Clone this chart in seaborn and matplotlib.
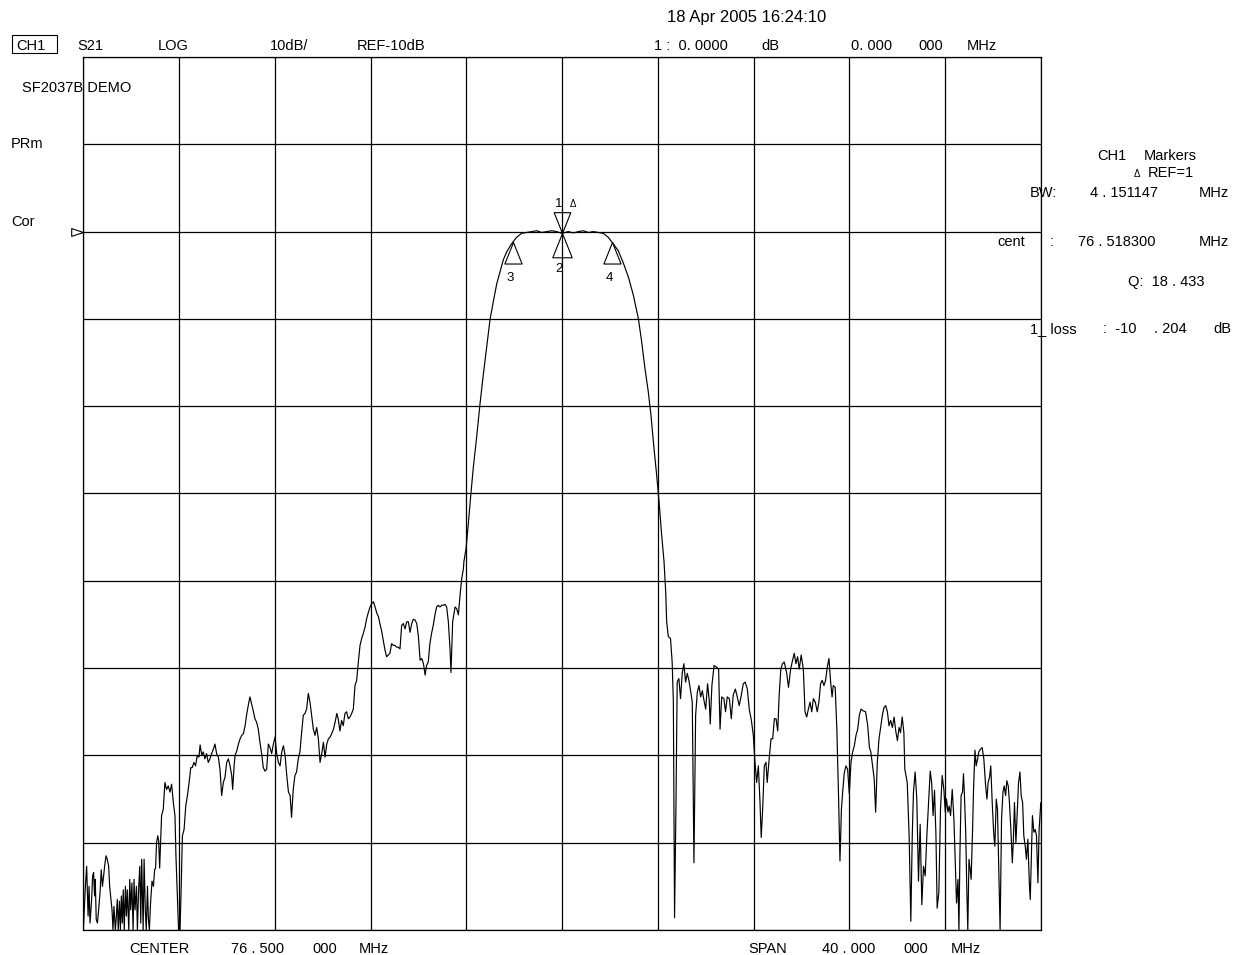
import numpy as np
import matplotlib
matplotlib.use("Agg")
import matplotlib.pyplot as plt
from matplotlib.patches import Rectangle
import seaborn as sns

# S21 trace (MHz, dB)
low_stop_freq = [
    56.50, 56.58, 56.64, 56.70, 56.74, 56.78, 56.84, 56.89, 56.93, 56.97,
    57.00, 57.04, 57.09, 57.14, 57.20, 57.25, 57.30, 57.35, 57.39, 57.45,
    57.50, 57.56, 57.60, 57.64, 57.70, 57.74, 57.78, 57.84, 57.88, 57.92,
    57.96, 58.01, 58.05, 58.09, 58.13, 58.17, 58.21, 58.26, 58.30, 58.34,
    58.40, 58.44, 58.48, 58.53, 58.58, 58.62, 58.66, 58.72, 58.76, 58.81,
    58.86, 58.90, 58.94, 59.00, 59.04, 59.09, 59.13, 59.18, 59.22, 59.26,
    59.31, 59.37, 59.43, 59.48, 59.52, 59.56, 59.61, 59.65, 59.69, 59.73,
    59.77, 59.84, 59.91, 59.98, 60.05, 60.12, 60.19, 60.26, 60.33, 60.37,
    60.43, 60.48, 60.54, 60.58, 60.64, 60.71, 60.78, 60.85, 60.92, 60.99,
    61.05, 61.12, 61.19, 61.26, 61.33, 61.38, 61.45, 61.51, 61.58, 61.65,
    61.72, 61.79, 61.86, 61.93, 62.00, 62.07, 62.14, 62.21, 62.28, 62.35,
    62.42, 62.49, 62.56, 62.63, 62.70, 62.74, 62.80, 62.84, 62.91, 62.98,
    63.05, 63.12, 63.19, 63.26, 63.32, 63.39, 63.46, 63.53, 63.60, 63.67,
    63.74, 63.81, 63.88, 63.95, 64.02, 64.09, 64.16, 64.23, 64.30, 64.37,
    64.44, 64.51, 64.58, 64.65, 64.72, 64.79, 64.86, 64.93, 65.00, 65.07,
    65.14, 65.20, 65.27, 65.34, 65.41, 65.48, 65.55, 65.62, 65.69, 65.76,
    65.83, 65.90, 65.97, 66.04, 66.11, 66.18, 66.25, 66.32, 66.39, 66.46,
    66.53, 66.60, 66.67, 66.74, 66.81, 66.88, 66.95, 67.02, 67.09, 67.15,
    67.22, 67.29, 67.36, 67.43, 67.50, 67.57, 67.64, 67.71, 67.78, 67.85,
    67.92, 67.99, 68.06, 68.13, 68.20, 68.27, 68.34, 68.41, 68.48, 68.55,
    68.62, 68.69, 68.76, 68.83, 68.89, 68.96, 69.03, 69.10, 69.17, 69.24,
    69.31, 69.38, 69.45, 69.52, 69.59, 69.66, 69.73, 69.80, 69.87, 69.94,
    70.01, 70.08, 70.15, 70.22, 70.29, 70.36, 70.43, 70.50, 70.57, 70.64,
    70.71, 70.78, 70.84, 70.91, 70.98, 71.05, 71.12, 71.19, 71.26, 71.33,
    71.40, 71.47, 71.54, 71.61, 71.68, 71.75, 71.82, 71.86, 71.93, 72.03,
    72.10, 72.17, 72.24, 72.31, 72.38,
]
low_stop_db = [
    -90.0, -85.4, -82.7, -88.4, -85.0, -89.2, -86.9, -83.8, -83.4, -86.1,
    -84.2, -88.8, -89.2, -87.7, -85.7, -83.1, -85.0, -83.8, -82.7, -81.5,
    -81.9, -82.7, -85.0, -86.1, -87.7, -90.0, -87.3, -90.0, -88.4, -86.5,
    -90.0, -86.7, -90.0, -86.1, -89.2, -85.4, -90.0, -85.0, -88.4, -85.4,
    -90.0, -84.2, -87.7, -84.6, -90.0, -84.2, -87.7, -85.0, -90.0, -85.4,
    -82.7, -89.2, -81.9, -90.0, -81.9, -87.7, -90.0, -85.0, -88.8, -90.0,
    -86.9, -84.4, -85.0, -83.1, -82.9, -80.0, -79.2, -79.8, -82.9, -80.0,
    -76.9, -76.2, -73.1, -73.9, -73.5, -74.2, -73.3, -75.4, -76.9, -81.5,
    -86.1, -90.0, -90.0, -86.1, -79.2, -78.5, -75.8, -74.6, -73.1, -71.4,
    -71.4, -70.8, -71.2, -70.0, -70.2, -68.8, -70.0, -69.6, -70.4, -69.8,
    -70.8, -70.4, -69.8, -69.3, -68.7, -69.8, -70.2, -71.6, -74.6, -73.1,
    -72.5, -70.8, -70.4, -71.2, -72.3, -73.9, -71.2, -70.0, -69.5, -68.7,
    -68.1, -67.7, -67.5, -66.6, -65.4, -64.3, -63.3, -64.1, -64.9, -65.8,
    -66.2, -67.0, -68.5, -69.8, -71.4, -71.8, -71.6, -68.7, -69.1, -69.8,
    -68.7, -67.9, -69.8, -70.8, -71.2, -69.6, -68.9, -70.0, -72.3, -74.2,
    -74.6, -77.1, -73.9, -72.3, -71.9, -70.4, -69.6, -67.4, -65.4, -65.2,
    -64.7, -62.9, -63.9, -65.4, -67.0, -67.7, -66.8, -68.1, -70.8, -69.8,
    -68.5, -70.2, -68.7, -68.1, -67.9, -67.5, -67.0, -66.2, -65.2, -65.8,
    -67.2, -66.0, -66.6, -65.2, -65.0, -65.8, -65.6, -65.2, -64.7, -62.0,
    -61.4, -59.3, -57.4, -56.6, -56.0, -55.3, -54.3, -53.6, -53.0, -52.6,
    -52.4, -53.0, -53.7, -54.1, -54.9, -55.7, -56.8, -57.9, -58.7, -58.5,
    -58.3, -57.2, -57.4, -57.4, -57.6, -57.6, -57.8, -55.1, -54.9, -55.5,
    -54.7, -54.7, -55.9, -54.9, -54.4, -54.5, -54.9, -56.4, -59.1, -58.9,
    -59.5, -60.8, -59.7, -59.3, -57.2, -56.0, -55.1, -53.9, -53.0, -52.8,
    -53.0, -52.8, -52.8, -52.7, -53.0, -54.7, -57.8, -60.5, -54.7, -53.0,
    -53.2, -53.9, -51.6, -49.7, -48.6,
]

pass_freq = [
    72.40, 72.49, 72.58, 72.69, 72.79, 72.93, 73.07, 73.21, 73.35, 73.49,
    73.63, 73.77, 73.91, 74.05, 74.19, 74.39, 74.60, 74.81, 75.02, 75.23,
    75.44, 75.65, 75.86, 76.07, 76.27, 76.50, 76.76, 76.97, 77.18, 77.39,
    77.60, 77.81, 78.01, 78.22, 78.43, 78.64, 78.85, 79.06, 79.27, 79.48,
    79.69, 79.82, 79.96, 80.10, 80.21, 80.34, 80.45, 80.55, 80.66, 80.76,
    80.83,
]
pass_db = [
    -47.8, -46.3, -43.6, -40.1, -37.1, -33.6, -29.8, -26.4, -23.3, -20.1,
    -18.0, -16.0, -14.6, -13.2, -12.3, -11.4, -10.65, -10.2, -10.1, -10.0,
    -9.9, -10.1, -10.0, -9.9, -10.0, -10.2, -10.0, -10.15, -10.0, -9.9,
    -10.1, -10.0, -10.1, -10.2, -10.65, -11.4, -12.2, -13.6, -15.2, -17.3,
    -20.0, -22.5, -25.6, -28.3, -30.9, -34.8, -37.8, -40.9, -44.7, -47.8,
    -51.3,
]

high_stop_freq = [
    80.87, 80.94, 81.03, 81.10, 81.15, 81.20, 81.26, 81.31, 81.38, 81.45,
    81.52, 81.59, 81.66, 81.73, 81.80, 81.87, 81.94, 82.01, 82.08, 82.15,
    82.22, 82.29, 82.36, 82.43, 82.50, 82.58, 82.65, 82.69, 82.76, 82.85,
    82.96, 83.04, 83.10, 83.17, 83.26, 83.33, 83.40, 83.49, 83.57, 83.65,
    83.74, 83.82, 83.90, 83.99, 84.07, 84.15, 84.24, 84.32, 84.41, 84.49,
    84.56, 84.63, 84.70, 84.77, 84.82, 84.88, 84.95, 85.02, 85.07, 85.14,
    85.23, 85.30, 85.37, 85.44, 85.51, 85.57, 85.64, 85.71, 85.78, 85.88,
    85.96, 86.05, 86.13, 86.20, 86.27, 86.34, 86.41, 86.49, 86.58, 86.65,
    86.72, 86.79, 86.86, 86.93, 87.00, 87.08, 87.16, 87.23, 87.30, 87.37,
    87.44, 87.51, 87.58, 87.65, 87.72, 87.78, 87.83, 87.91, 87.98, 88.05,
    88.11, 88.17, 88.22, 88.29, 88.36, 88.43, 88.50, 88.57, 88.64, 88.71,
    88.78, 88.85, 88.92, 88.99, 89.08, 89.18, 89.27, 89.34, 89.40, 89.47,
    89.54, 89.60, 89.67, 89.74, 89.81, 89.88, 89.95, 90.02, 90.09, 90.16,
    90.23, 90.30, 90.37, 90.44, 90.51, 90.58, 90.64, 90.71, 90.78, 90.82,
    90.92, 91.00, 91.07, 91.13, 91.18, 91.25, 91.32, 91.39, 91.46, 91.53,
    91.60, 91.67, 91.74, 91.81, 91.88, 91.94, 92.00, 92.06, 92.12, 92.17,
    92.24, 92.31, 92.38, 92.45, 92.51, 92.56, 92.62, 92.67, 92.73, 92.80,
    92.87, 92.92, 92.98, 93.04, 93.08, 93.12, 93.17, 93.23, 93.27, 93.31,
    93.36, 93.41, 93.45, 93.50, 93.55, 93.59, 93.65, 93.69, 93.75, 93.80,
    93.86, 93.91, 93.98, 94.05, 94.12, 94.19, 94.25, 94.30, 94.36, 94.41,
    94.47, 94.53, 94.58, 94.64, 94.69, 94.75, 94.80, 94.86, 94.92, 94.97,
    95.03, 95.08, 95.14, 95.19, 95.25, 95.31, 95.35, 95.40, 95.46, 95.51,
    95.57, 95.63, 95.68, 95.74, 95.79, 95.85, 95.90, 95.96, 96.02, 96.06,
    96.10, 96.15, 96.21, 96.27, 96.32, 96.38, 96.43, 96.50,
]
high_stop_db = [
    -54.7, -56.4, -56.6, -59.3, -63.9, -88.6, -75.4, -61.6, -61.2, -63.5,
    -60.6, -59.5, -61.6, -60.6, -61.4, -62.6, -63.9, -82.3, -65.4, -62.8,
    -62.0, -63.3, -62.6, -63.7, -64.7, -61.8, -63.7, -66.4, -62.0, -59.7,
    -59.9, -60.1, -67.0, -63.3, -63.5, -65.0, -63.3, -63.5, -65.8, -63.1,
    -62.4, -63.3, -64.3, -63.1, -61.8, -61.6, -62.4, -64.7, -66.0, -67.7,
    -70.8, -73.1, -71.2, -75.4, -79.4, -76.2, -71.2, -70.8, -73.1, -70.8,
    -68.1, -68.1, -65.8, -65.8, -67.2, -63.1, -60.1, -59.5, -59.3, -60.5,
    -62.2, -60.1, -59.1, -58.3, -59.5, -58.7, -60.1, -58.5, -60.1, -65.0,
    -65.6, -64.7, -63.9, -65.0, -63.5, -63.9, -65.0, -63.9, -61.8, -61.4,
    -62.0, -61.4, -59.9, -58.9, -61.6, -63.3, -62.0, -62.2, -67.0, -74.6,
    -82.1, -76.2, -74.3, -72.0, -71.2, -71.6, -74.4, -70.8, -69.6, -68.9,
    -67.7, -67.0, -65.4, -64.7, -64.9, -65.0, -66.6, -69.1, -69.6, -71.2,
    -72.7, -76.5, -70.8, -68.1, -66.8, -65.4, -64.5, -64.3, -65.0, -66.6,
    -66.0, -66.8, -65.6, -67.2, -68.3, -66.8, -67.4, -65.6, -67.4, -71.6,
    -73.1, -79.2, -89.0, -79.2, -74.2, -71.9, -75.0, -84.4, -77.9, -87.1,
    -82.7, -83.8, -79.2, -75.4, -71.8, -73.1, -76.9, -74.0, -79.2, -87.5,
    -85.7, -76.2, -72.3, -73.9, -76.5, -75.0, -76.5, -75.8, -76.9, -73.9,
    -77.3, -81.5, -86.9, -84.2, -90.0, -81.5, -74.6, -74.2, -72.1, -74.6,
    -78.5, -85.4, -90.0, -81.9, -83.1, -84.2, -78.5, -73.9, -69.4, -71.2,
    -70.4, -69.6, -69.3, -69.1, -70.4, -73.3, -75.0, -73.1, -72.5, -71.2,
    -75.4, -78.8, -80.4, -75.0, -76.2, -83.8, -90.0, -77.3, -74.2, -73.5,
    -74.6, -72.9, -73.5, -75.4, -78.5, -82.3, -80.0, -75.4, -80.0, -76.9,
    -73.1, -71.9, -74.6, -75.4, -79.2, -80.4, -81.9, -79.6, -84.6, -86.5,
    -82.3, -76.9, -78.8, -78.5, -79.2, -84.6, -78.5, -75.4,
]

# markers 1..4
marker_ids = ["1", "2", "3", "4"]
marker_freq = [76.5, 76.5, 74.443, 78.594]
marker_db = [-10.204, -10.204, -11.2, -11.2]

center_mhz = 76.5
span_mhz = 40.0
ref_db = -10.0
db_per_div = 10.0

freq = np.array(low_stop_freq + pass_freq + high_stop_freq)
s21 = np.array(low_stop_db + pass_db + high_stop_db)

sns.set_theme(style="white")
plt.rcParams["font.family"] = ["Liberation Sans", "DejaVu Sans"]

W, H = 1240, 955
fig = plt.figure(figsize=(W / 100, H / 100), dpi=100)
ax = fig.add_axes([83.3 / W, 1 - 930 / H, 957.5 / W, 873 / H])

sns.lineplot(x=freq, y=s21, ax=ax, color="black", lw=0.85,
             estimator=None, sort=False)

f0 = center_mhz - span_mhz / 2
f1 = center_mhz + span_mhz / 2
top = ref_db + 2 * db_per_div
ax.set_xlim(f0, f1)
ax.set_ylim(top - 10 * db_per_div, top)
ax.set_xticks(np.linspace(f0, f1, 11))
ax.set_yticks(np.linspace(top - 10 * db_per_div, top, 11))
ax.tick_params(length=0, labelbottom=False, labelleft=False)
ax.set_xlabel("")
ax.set_ylabel("")
ax.grid(True, color="black", lw=0.9)
for s in ax.spines.values():
    s.set_color("black")
    s.set_linewidth(0.9)

# marker triangles, apex sits on the trace
down_tri = [(0, 0), (-0.4, 1), (0.4, 1), (0, 0)]
up_tri = [(0, 0), (-0.4, -1), (0.4, -1), (0, 0)]
mk_style = dict(ls="none", mfc="none", mec="black", mew=0.8)
ax.plot(marker_freq[0], marker_db[0], marker=down_tri, ms=30, **mk_style)
ax.plot(marker_freq[1], marker_db[1], marker=up_tri, ms=35, **mk_style)
ax.plot(marker_freq[2:], marker_db[2:], marker=up_tri, ms=31, **mk_style)

# reference position arrow on the left edge
ax.plot(f0, ref_db, marker=[(0, 0), (-1, 0.33), (-1, -0.33), (0, 0)],
        ms=17, clip_on=False, **mk_style)


def ftext(x, y, s, size=10.5, **kw):
    fig.text(x / W, 1 - y / H, s, fontsize=size, va="baseline", ha="left",
             color="black", **kw)


# marker labels
ftext(555, 207, marker_ids[0], size=9.5)
ftext(570, 207, "Δ", size=7)
ftext(555, 272, marker_ids[1], size=9.5)
ftext(506, 281, marker_ids[2], size=9.5)
ftext(606, 281, marker_ids[3], size=9.5)

# header
fig.add_artist(Rectangle((12 / W, 1 - 53 / H), 45 / W, 18 / H,
                         transform=fig.transFigure, fill=False,
                         ec="black", lw=0.8))
ftext(667, 22, "18 Apr 2005 16:24:10", size=12)
ftext(16, 50, "CH1")
ftext(77, 50, "S21")
ftext(158, 50, "LOG")
ftext(270, 50, "10dB/")
ftext(357, 50, "REF-10dB")
ftext(654, 50, "1 :  0. 0000")
ftext(761, 50, "dB")
ftext(851, 50, "0. 000")
ftext(918, 50, "000")
ftext(967, 50, "MHz")

# left labels
ftext(22, 92, "SF2037B DEMO")
ftext(11, 148, "PRm")
ftext(11, 226, "Cor")

# marker readout panel
ftext(1097, 160, "CH1")
ftext(1144, 160, "Markers")
ftext(1134, 177, "Δ", size=7)
ftext(1148, 177, "REF=1")
ftext(1030, 197, "BW:")
ftext(1090, 197, "4 . 151147")
ftext(1199, 197, "MHz")
ftext(997, 246, "cent")
ftext(1050, 246, ":")
ftext(1078, 246, "76 . 518300")
ftext(1199, 246, "MHz")
ftext(1128, 286, "Q:  18 . 433")
ftext(1030, 333, "1_ loss")
ftext(1103, 333, ":  -10")
ftext(1154, 333, ". 204")
ftext(1213, 333, "dB")

# footer
ftext(129, 953, "CENTER")
ftext(231, 953, "76 . 500")
ftext(312, 953, "000")
ftext(359, 953, "MHz")
ftext(748, 953, "SPAN")
ftext(822, 953, "40 . 000")
ftext(903, 953, "000")
ftext(951, 953, "MHz")

fig.savefig("out.png", dpi=100, facecolor="white")
